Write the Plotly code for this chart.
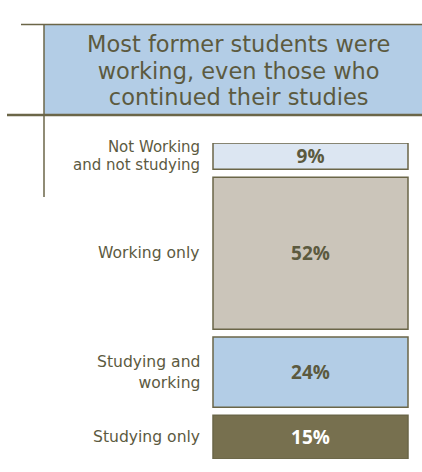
import plotly.graph_objects as go

# Share of former students by activity
categories = [["Not Working", "and not studying"], ["Working only"],
              ["Studying and", "working"], ["Studying only"]]
values = [9, 52, 24, 15]
value_labels = ["9%", "52%", "24%", "15%"]
title_lines = ["Most former students were", "working, even those who", "continued their studies"]

W, H = 422, 472
GAP = 2.7  # spacing between stacked boxes, in percent units
BOX_W = 195  # box width in pixels
BOX_CX = 310.5  # box centre in pixels
FONT = "DejaVu Sans"
VALUE_FONT = "Open Sans"

fills = ["#dce6f2", "#cbc5ba", "#b3cde6", "#77704f"]
text_colors = ["#5c5a3f", "#5c5a3f", "#5c5a3f", "#ffffff"]
ink = "#5c5a3f"
rule = "#6b6648"

bases = []
acc = 0
for v in values:
    bases.append(acc)
    acc += v + GAP
total = acc - GAP

def px(x):
    return x / W

def py(y):
    return 1 - y / H

def tight_lines(lines, size, leading):
    """Multi-line text whose line pitch (leading, px) is set independently of glyph size."""
    body = "<br>".join(f'<span style="font-size:{size}px">{ln}</span>' for ln in lines)
    return body, leading / 1.3

fig = go.Figure()
fig.add_trace(go.Bar(
    x=[0] * len(values),
    y=values,
    base=bases,
    width=1,
    marker=dict(color=fills, line=dict(color=rule, width=1.5)),
    text=value_labels,
    textposition="inside",
    insidetextanchor="middle",
    textangle=0,
    constraintext="none",
    insidetextfont=dict(family=VALUE_FONT, size=19, color=text_colors, weight="bold"),
    hoverinfo="skip",
))

# Category labels to the left of each box
label_sizes = [15, 15.6, 15.6, 15.6]
leadings = [17.5, 21, 21, 21]
for cat, b, v, size, lead in zip(categories, bases, values, label_sizes, leadings):
    txt, fsize = tight_lines(cat, size, lead)
    fig.add_annotation(
        x=px(199.5), xref="paper", y=b + v / 2, yref="y",
        text=txt, showarrow=False, xanchor="right", yanchor="middle",
        align="right", borderpad=0, borderwidth=0,
        font=dict(family=FONT, size=fsize, color=ink),
    )

# Title panel
fig.add_shape(type="rect", xref="paper", yref="paper",
              x0=px(44), x1=1, y0=py(115), y1=py(25),
              fillcolor="#b3cde6", line=dict(width=0), layer="below")
fig.add_shape(type="line", xref="paper", yref="paper",
              x0=px(21), x1=1, y0=py(24.5), y1=py(24.5),
              line=dict(color=rule, width=1.5))
fig.add_shape(type="line", xref="paper", yref="paper",
              x0=px(7), x1=1, y0=py(115), y1=py(115),
              line=dict(color=rule, width=2.5))
fig.add_shape(type="line", xref="paper", yref="paper",
              x0=px(44), x1=px(44), y0=py(24), y1=py(197),
              line=dict(color=rule, width=1.5))
title_txt, title_size = tight_lines(title_lines, 22.5, 26.5)
fig.add_annotation(
    x=px(238), xref="paper", y=py(70), yref="paper",
    text=title_txt, showarrow=False, xanchor="center", yanchor="middle",
    align="center", font=dict(family=FONT, size=title_size, color=ink),
)

fig.update_layout(
    width=W, height=H,
    margin=dict(l=0, r=0, t=0, b=0),
    paper_bgcolor="white", plot_bgcolor="white",
    showlegend=False,
    xaxis=dict(range=[-BOX_CX / BOX_W, (W - BOX_CX) / BOX_W], domain=[0, 1],
               visible=False, fixedrange=True),
    yaxis=dict(range=[total, 0], domain=[py(459), py(143)], visible=False, fixedrange=True),
)

fig.write_html("out.html")
